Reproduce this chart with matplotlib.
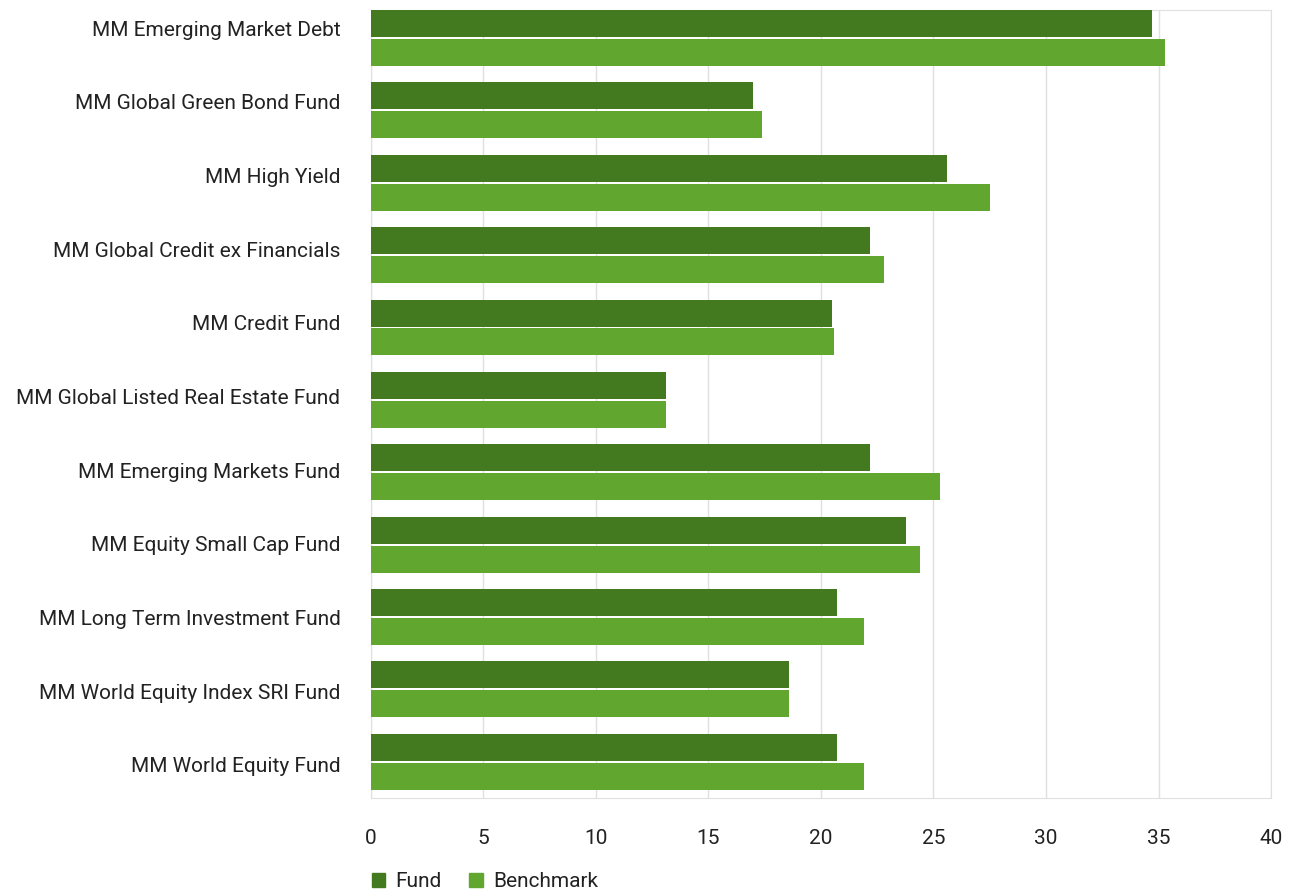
import numpy as np
import matplotlib.pyplot as plt
from matplotlib.patches import Patch

plt.rcParams['font.family'] = ['Roboto', 'DejaVu Sans']

categories = ['MM Emerging Market Debt', 'MM Global Green Bond Fund', 'MM High Yield',
              'MM Global Credit ex Financials', 'MM Credit Fund',
              'MM Global Listed Real Estate Fund', 'MM Emerging Markets Fund',
              'MM Equity Small Cap Fund', 'MM Long Term Investment Fund',
              'MM World Equity Index SRI Fund', 'MM World Equity Fund']
fund = [34.7, 17.0, 25.6, 22.2, 20.5, 13.1, 22.2, 23.8, 20.7, 18.6, 20.7]
benchmark = [35.3, 17.4, 27.5, 22.8, 20.6, 13.1, 25.3, 24.4, 21.9, 18.6, 21.9]

c_fund = '#437a1f'
c_bench = '#61a72f'

fig = plt.figure(figsize=(12.93, 8.92), dpi=100)
ax = fig.add_axes([0.2869, 0.1054, 0.6961, 0.8834])

y = np.arange(len(categories))
h = 0.373
ax.barh(y - 0.2, fund, height=h, color=c_fund, zorder=3)
ax.barh(y + 0.2, benchmark, height=h, color=c_bench, zorder=3)

ax.set_xlim(0, 40)
ax.set_ylim(10.5, -0.387)
ax.set_xticks(range(0, 41, 5))
# category labels sit on a slightly wider spacing than the bar groups
ax.set_yticks(-0.138 + 1.018 * y)
ax.set_yticklabels(categories)
ax.tick_params(axis='both', length=0, labelsize=15, colors='#222222')
ax.tick_params(axis='x', pad=22)
ax.tick_params(axis='y', pad=22)
ax.grid(axis='x', color='#e0e0e0', linewidth=1, zorder=0)
for s in ax.spines.values():
    s.set_color('#e0e0e0')

handles = [Patch(color=c_fund, label='Fund'), Patch(color=c_bench, label='Benchmark')]
fig.legend(handles=handles, loc='lower left', bbox_to_anchor=(0.273, -0.02), ncol=2,
           frameon=False, fontsize=15, handlelength=0.65, handleheight=0.65,
           handletextpad=0.5, columnspacing=1.3, labelcolor='#222222')

fig.savefig('out.png', dpi=100)
